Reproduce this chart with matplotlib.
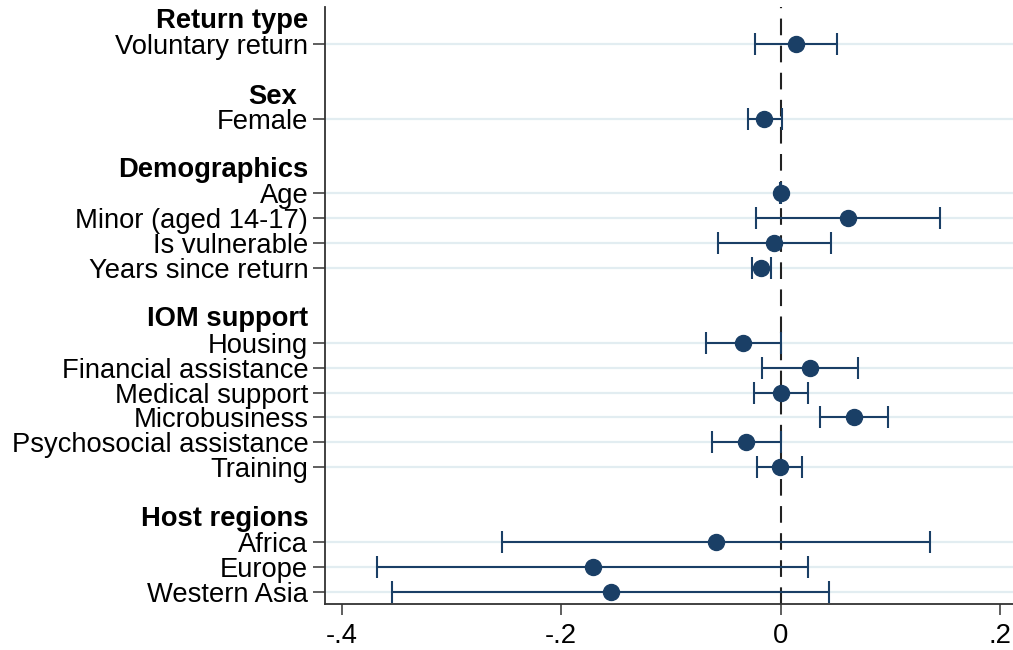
import matplotlib
matplotlib.use('Agg')
import matplotlib.pyplot as plt
import matplotlib.transforms as mtransforms

### Coefficients and 95% confidence intervals
groups = ['Return type', 'Sex', 'Demographics', 'IOM support', 'Host regions']

variables = [
    ['Voluntary return'],
    ['Female'],
    ['Age', 'Minor (aged 14-17)', 'Is vulnerable', 'Years since return'],
    ['Housing', 'Financial assistance', 'Medical support', 'Microbusiness',
     'Psychosocial assistance', 'Training'],
    ['Africa', 'Europe', 'Western Asia'],
]

coef = [
    [0.014],
    [-0.015],
    [0.000, 0.0615, -0.006, -0.018],
    [-0.034, 0.027, 0.000, 0.067, -0.032, -0.001],
    [-0.059, -0.171, -0.155],
]

ci_low = [
    [-0.023],
    [-0.0295],
    [-0.0005, -0.022, -0.057, -0.0265],
    [-0.068, -0.0167, -0.024, 0.036, -0.063, -0.0216],
    [-0.2536, -0.3678, -0.3545],
]

ci_high = [
    [0.051],
    [0.0016],
    [0.0005, 0.1455, 0.0457, -0.0089],
    [0.000, 0.0706, 0.025, 0.0977, 0.000, 0.0192],
    [0.1357, 0.0245, 0.0444],
]

xticks = [-0.4, -0.2, 0.0, 0.2]
xticklabels = ['-.4', '-.2', '0', '.2']

### Row layout: one blank + header row before each group
rows, labels, b, lo, hi = [], [], [], [], []
header_rows = []
pos = -1
for g, (names, c, l, h) in enumerate(zip(variables, coef, ci_low, ci_high)):
    if g > 0:
        pos += 1
    header_rows.append(pos)
    pos += 1
    for n, cc, ll, hh in zip(names, c, l, h):
        rows.append(pos)
        labels.append(n)
        b.append(cc)
        lo.append(ll)
        hi.append(hh)
        pos += 1

err = [[bb - ll for bb, ll in zip(b, lo)], [hh - bb for bb, hh in zip(b, hi)]]

navy = '#1a3f66'
plt.rcParams['font.family'] = ['Liberation Sans', 'DejaVu Sans']
fs = 19.7

fig = plt.figure(figsize=(10.13, 6.5), dpi=100)
ax = fig.add_axes([325 / 1013, 46 / 650, 688 / 1013, 597 / 650])

# light horizontal guides at each coefficient row
for r in rows:
    ax.axhline(r, color='#e2edf1', lw=1.6, zorder=0)

# reference line at zero
ax.axvline(0, color='#222222', lw=1.5, ls=(0, (8, 5)), zorder=1)

ax.errorbar(b, rows, xerr=err, fmt='o', color=navy, ecolor=navy,
            elinewidth=1.5, capsize=8, capthick=1.5, markersize=11.5, zorder=3)

ax.set_xlim(-0.4153, 0.2118)
ax.set_ylim(22.49, -1.486)

ax.set_yticks(rows)
ax.set_yticklabels(labels, fontsize=fs)
ax.set_xticks(xticks)
ax.set_xticklabels(xticklabels, fontsize=fs)
ax.tick_params(axis='y', length=8.5, width=1.1, pad=3.5, color='#333333')
ax.tick_params(axis='x', length=8, width=1.1, pad=6, color='#333333')

for s in ['top', 'right']:
    ax.spines[s].set_visible(False)
for s in ['left', 'bottom']:
    ax.spines[s].set_color('#333333')
    ax.spines[s].set_linewidth(1.3)

# bold group headings, aligned with the tick labels
trans = mtransforms.blended_transform_factory(ax.transAxes, ax.transData)
for name, hr in zip(groups, header_rows):
    dx = -20.5 if name == 'Sex' else -12.2
    dy = 0.12 if name == 'Sex' else 0.06
    ax.annotate(name, xy=(0, hr + dy), xycoords=trans,
                xytext=(dx, 0), textcoords='offset points',
                ha='right', va='center', fontsize=fs, fontweight='bold',
                annotation_clip=False)

fig.savefig('out.png', dpi=100)
